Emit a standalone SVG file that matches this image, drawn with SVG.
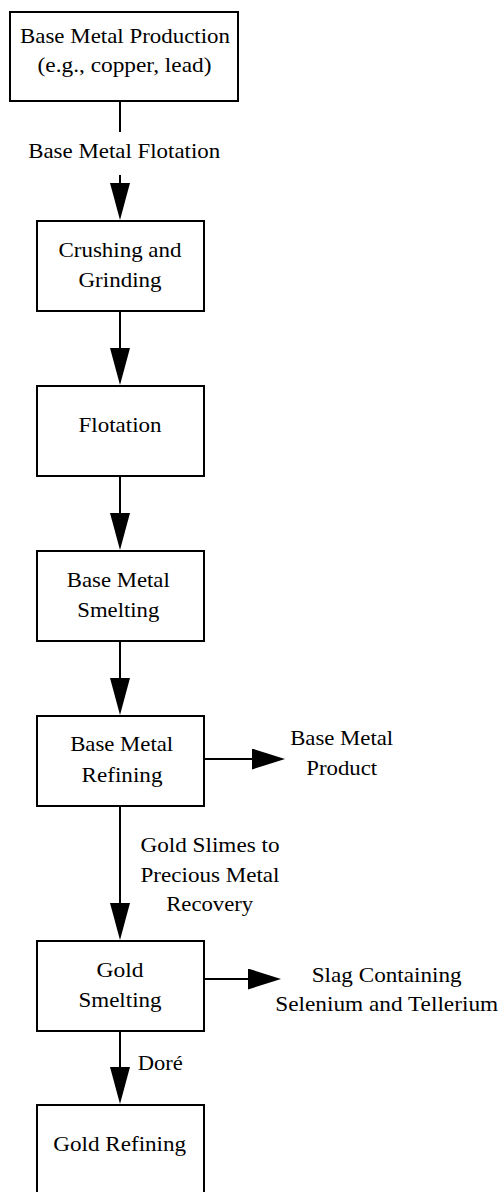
<svg xmlns="http://www.w3.org/2000/svg" width="501" height="1192" viewBox="0 0 501 1192">
<style>
  .box { fill: #ffffff; stroke: #000000; stroke-width: 2; }
  .ln { stroke: #000000; stroke-width: 2; fill: none; }
  .v { marker-end: url(#headV); }
  .h { marker-end: url(#headH); }
  .c { text-anchor: middle; }
</style>
<defs>
  <marker id="headV" markerUnits="userSpaceOnUse" markerWidth="37" markerHeight="20" viewBox="0 0 37 20" refX="0" refY="10" orient="auto">
    <path d="M0,0 L37,10 L0,20 Z" fill="#000000"/>
  </marker>
  <marker id="headH" markerUnits="userSpaceOnUse" markerWidth="33" markerHeight="21" viewBox="0 0 33 21" refX="0" refY="10.5" orient="auto">
    <path d="M0,0 L33,10.5 L0,21 Z" fill="#000000"/>
  </marker>
</defs>
<rect width="501" height="1192" fill="#ffffff"/>
<g font-family="'Liberation Serif', 'DejaVu Serif', serif" font-size="21" fill="#000000">
<g id="connectors">
  <line class="ln" x1="120" y1="101" x2="120" y2="132"/>
  <text class="c" x="124.2" y="158" textLength="192" lengthAdjust="spacingAndGlyphs">Base Metal Flotation</text>
  <line class="ln v" x1="120" y1="175" x2="120" y2="183"/>
  <line class="ln v" x1="120" y1="311" x2="120" y2="348"/>
  <line class="ln v" x1="120" y1="476" x2="120" y2="513"/>
  <line class="ln v" x1="120" y1="641" x2="120" y2="678"/>
  <line class="ln h" x1="204" y1="759" x2="252" y2="759"/>
  <text class="c" x="341.7" y="745" textLength="103" lengthAdjust="spacingAndGlyphs">Base Metal</text>
  <text class="c" x="341.7" y="775" textLength="71" lengthAdjust="spacingAndGlyphs">Product</text>
  <line class="ln v" x1="120" y1="806" x2="120" y2="903"/>
  <text class="c" x="210" y="852" textLength="139" lengthAdjust="spacingAndGlyphs">Gold Slimes to</text>
  <text class="c" x="210" y="882" textLength="139" lengthAdjust="spacingAndGlyphs">Precious Metal</text>
  <text class="c" x="209.7" y="911" textLength="87" lengthAdjust="spacingAndGlyphs">Recovery</text>
  <line class="ln h" x1="204" y1="979" x2="248" y2="979"/>
  <text class="c" x="386.7" y="982" textLength="150" lengthAdjust="spacingAndGlyphs">Slag Containing</text>
  <text class="c" x="386.7" y="1011" textLength="223" lengthAdjust="spacingAndGlyphs">Selenium and Tellerium</text>
  <line class="ln v" x1="120" y1="1031" x2="120" y2="1067"/>
  <text x="137.7" y="1070" textLength="45" lengthAdjust="spacingAndGlyphs">Doré</text>
</g>

<g id="n1">
  <rect class="box" x="10" y="12" width="228" height="89"/>
  <text class="c" x="125" y="43" textLength="210" lengthAdjust="spacingAndGlyphs">Base Metal Production</text>
  <text class="c" x="124.5" y="72" textLength="174" lengthAdjust="spacingAndGlyphs">(e.g., copper, lead)</text>
</g>
<g id="n2">
  <rect class="box" x="37" y="221" width="167" height="90"/>
  <text class="c" x="120" y="257" textLength="123" lengthAdjust="spacingAndGlyphs">Crushing and</text>
  <text class="c" x="120" y="287" textLength="83" lengthAdjust="spacingAndGlyphs">Grinding</text>
</g>
<g id="n3">
  <rect class="box" x="37" y="386" width="167" height="90"/>
  <text class="c" x="120" y="432" textLength="83" lengthAdjust="spacingAndGlyphs">Flotation</text>
</g>
<g id="n4">
  <rect class="box" x="37" y="551" width="167" height="90"/>
  <text class="c" x="118.3" y="587" textLength="103" lengthAdjust="spacingAndGlyphs">Base Metal</text>
  <text class="c" x="118.3" y="617" textLength="82" lengthAdjust="spacingAndGlyphs">Smelting</text>
</g>
<g id="n5">
  <rect class="box" x="37" y="716" width="167" height="90"/>
  <text class="c" x="121.7" y="751" textLength="103" lengthAdjust="spacingAndGlyphs">Base Metal</text>
  <text class="c" x="122" y="782" textLength="81" lengthAdjust="spacingAndGlyphs">Refining</text>
</g>
<g id="n6">
  <rect class="box" x="37" y="941" width="167" height="90"/>
  <text class="c" x="120" y="977" textLength="47" lengthAdjust="spacingAndGlyphs">Gold</text>
  <text class="c" x="120" y="1007" textLength="83" lengthAdjust="spacingAndGlyphs">Smelting</text>
</g>
<g id="n7">
  <rect class="box" x="37" y="1105" width="167" height="100"/>
  <text class="c" x="119.7" y="1151" textLength="133" lengthAdjust="spacingAndGlyphs">Gold Refining</text>
</g>
</g>
</svg>
